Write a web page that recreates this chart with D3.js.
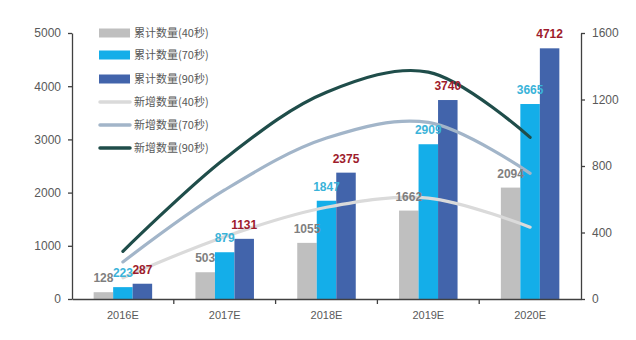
<!DOCTYPE html>
<html><head><meta charset="utf-8">
<script src="https://cdn.jsdelivr.net/npm/d3@7"></script>
<style>body{margin:0;background:#fff}svg{display:block}</style>
</head><body><svg id="c" width="636" height="340"></svg>
<script>
const categories = ["2016E","2017E","2018E","2019E","2020E"];
const cum40 = [128,503,1055,1662,2094];
const cum70 = [223,879,1847,2909,3665];
const cum90 = [287,1131,2375,3740,4712];
const new40 = [128,375,552,607,432];
const new70 = [223,656,968,1062,756];
const new90 = [287,844,1244,1365,972];
const leftTicks = [0,1000,2000,3000,4000,5000];
const rightTicks = [0,400,800,1200,1600];
const barSeries = [
  {name:"累计数量(40秒)", values:cum40, color:"#bfbfbf", label:"#7f7f7f"},
  {name:"累计数量(70秒)", values:cum70, color:"#14aee9", label:"#3ab3d9"},
  {name:"累计数量(90秒)", values:cum90, color:"#4264ab", label:"#9e1c2c"}
];
const lineSeries = [
  {name:"新增数量(40秒)", values:new40, color:"#dadada"},
  {name:"新增数量(70秒)", values:new70, color:"#a2b5c9"},
  {name:"新增数量(90秒)", values:new90, color:"#1f4d4a"}
];

const svg = d3.select("#c");
const x0 = 72, x1 = 581, yTop = 33, yBot = 299;
const x = d3.scaleBand().domain(categories).range([x0,x1]);
const yL = d3.scaleLinear().domain([0,5000]).range([yBot,yTop]);
const yR = d3.scaleLinear().domain([0,1600]).range([yBot,yTop]);
const barW = 19.5;
const groupW = barW*barSeries.length;

// bars
barSeries.forEach((s,si)=>{
  svg.append("g").selectAll("rect").data(s.values).join("rect")
    .attr("x",(d,i)=>x(categories[i])+x.bandwidth()/2-groupW/2+si*barW)
    .attr("width",barW)
    .attr("y",d=>yL(d))
    .attr("height",d=>yBot-yL(d))
    .attr("fill",s.color);
});

// lines
const line = d3.line().x((d,i)=>x(categories[i])+x.bandwidth()/2).y(d=>yR(d)).curve(d3.curveCatmullRom.alpha(0.5));
lineSeries.forEach(s=>{
  svg.append("path").datum(s.values).attr("d",line)
    .attr("fill","none").attr("stroke",s.color).attr("stroke-width",3.2).attr("stroke-linecap","round");
});

// value labels
barSeries.forEach((s,si)=>{
  svg.append("g").selectAll("text").data(s.values).join("text")
    .attr("x",(d,i)=>x(categories[i])+x.bandwidth()/2-groupW/2+si*barW+barW/2)
    .attr("y",d=>yL(d)-10)
    .attr("text-anchor","middle")
    .attr("font-family","Liberation Sans, Arial, sans-serif")
    .attr("font-size",12).attr("font-weight","bold")
    .attr("fill",s.label)
    .text(d=>d);
});

// axes
const axisStyle = g=>{
  g.select(".domain").attr("stroke","#404040").attr("stroke-width",1.3);
  g.selectAll(".tick line").attr("stroke","#404040").attr("stroke-width",1.3);
  g.selectAll("text").attr("fill","#595959").attr("font-family","Liberation Sans, Arial, sans-serif").attr("font-size",12);
};
svg.append("g").attr("transform",`translate(${x0},0)`)
  .call(d3.axisLeft(yL).tickValues(leftTicks).tickSize(4).tickSizeOuter(0).tickPadding(7).tickFormat(d3.format("d")))
  .call(axisStyle);
svg.append("g").attr("transform",`translate(${x1},0)`)
  .call(d3.axisRight(yR).tickValues(rightTicks).tickSize(4).tickSizeOuter(0).tickPadding(7).tickFormat(d3.format("d")))
  .call(axisStyle);
const xa = svg.append("g").attr("transform",`translate(0,${yBot})`)
  .call(d3.axisBottom(x).tickSize(0).tickPadding(12))
  .call(axisStyle);
xa.selectAll("text").attr("font-size",11);
// category boundary ticks
svg.append("g").selectAll("line").data(categories.slice(1)).join("line")
  .attr("x1",d=>x(d)).attr("x2",d=>x(d)).attr("y1",yBot).attr("y2",yBot+5)
  .attr("stroke","#404040").attr("stroke-width",1.3);

// legend
const leg = svg.append("g");
const rowsY = [33,55,79,102,125,148];
barSeries.forEach((s,i)=>{
  leg.append("rect").attr("x",99).attr("y",rowsY[i]-4.5).attr("width",31).attr("height",9).attr("fill",s.color);
});
lineSeries.forEach((s,i)=>{
  leg.append("line").attr("x1",100).attr("x2",130).attr("y1",rowsY[i+3]).attr("y2",rowsY[i+3])
    .attr("stroke",s.color).attr("stroke-width",3.5).attr("stroke-linecap","round");
});
barSeries.concat(lineSeries).forEach((s,i)=>{
  leg.append("text").attr("x",134).attr("y",rowsY[i]).attr("dy","0.36em")
    .attr("font-family","Noto Sans CJK SC, sans-serif").attr("font-size",11).attr("fill","#595959")
    .text(s.name);
});
</script></body></html>
